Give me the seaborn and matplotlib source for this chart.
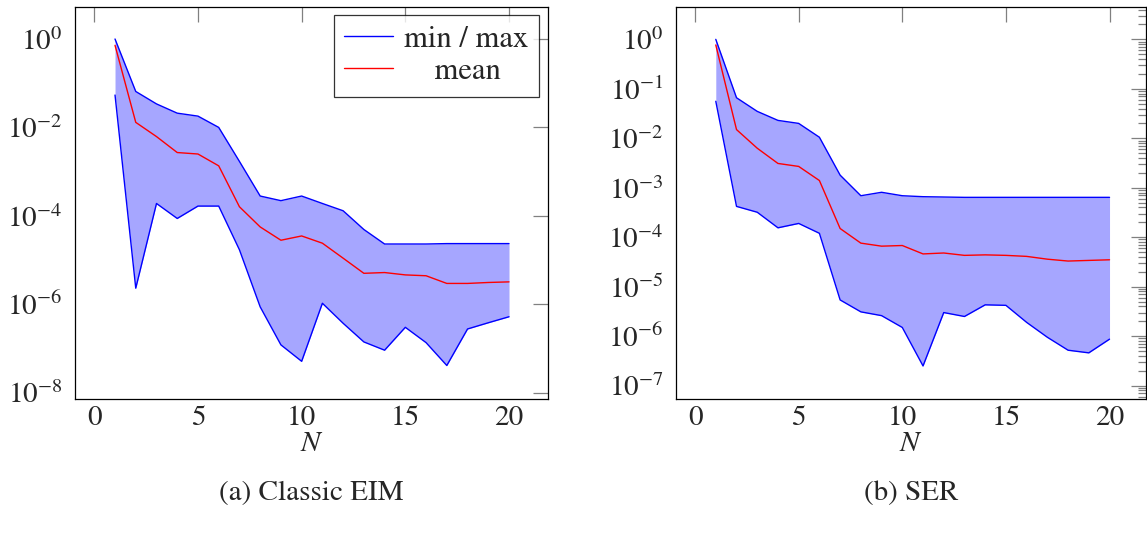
import numpy as np
import matplotlib
matplotlib.use("Agg")
import matplotlib.pyplot as plt
import matplotlib.ticker as mticker
import seaborn as sns

# Settings
sns.set_theme(style="white")
plt.rcParams['font.family'] = ['STIXGeneral', 'DejaVu Serif']
plt.rcParams['mathtext.fontset'] = 'stix'

# ── Data ──────────────────────────────────────────
N = list(range(1, 21))

eim_max = [1.0, 6.5e-2, 3.4e-2, 2.1e-2, 1.8e-2, 1.0e-2, 1.7e-3, 2.8e-4, 2.2e-4, 2.8e-4,
           1.9e-4, 1.3e-4, 4.9e-5, 2.3e-5, 2.3e-5, 2.3e-5, 2.35e-5, 2.35e-5, 2.35e-5, 2.35e-5]
eim_mean = [0.72, 1.3e-2, 6.2e-3, 2.7e-3, 2.5e-3, 1.35e-3, 1.6e-4, 5.6e-5, 2.8e-5, 3.5e-5,
            2.4e-5, 1.1e-5, 5.0e-6, 5.2e-6, 4.6e-6, 4.4e-6, 2.95e-6, 2.95e-6, 3.1e-6, 3.2e-6]
eim_min = [5.4e-2, 2.3e-6, 1.9e-4, 8.7e-5, 1.66e-4, 1.66e-4, 1.7e-5, 8.7e-7, 1.2e-7, 5.1e-8,
           1.05e-6, 3.7e-7, 1.4e-7, 9.1e-8, 3.0e-7, 1.35e-7, 4.1e-8, 2.75e-7, 3.8e-7, 5.2e-7]

ser_max = [1.0, 6.6e-2, 3.5e-2, 2.3e-2, 2.0e-2, 1.05e-2, 1.8e-3, 6.9e-4, 8.1e-4, 6.9e-4,
           6.6e-4, 6.5e-4, 6.4e-4, 6.4e-4, 6.4e-4, 6.4e-4, 6.4e-4, 6.4e-4, 6.4e-4, 6.4e-4]
ser_mean = [0.77, 1.5e-2, 6.3e-3, 3.1e-3, 2.7e-3, 1.4e-3, 1.5e-4, 7.6e-5, 6.6e-5, 6.8e-5,
            4.6e-5, 4.8e-5, 4.3e-5, 4.4e-5, 4.3e-5, 4.1e-5, 3.6e-5, 3.3e-5, 3.4e-5, 3.5e-5]
ser_min = [5.6e-2, 4.2e-4, 3.2e-4, 1.55e-4, 1.9e-4, 1.2e-4, 5.4e-6, 3.1e-6, 2.6e-6, 1.5e-6,
           2.5e-7, 3.0e-6, 2.5e-6, 4.3e-6, 4.2e-6, 1.9e-6, 9.5e-7, 5.2e-7, 4.6e-7, 8.7e-7]

x_ticks = [0, 5, 10, 15, 20]

# ── Figure ────────────────────────────────────────
fig = plt.figure(figsize=(11.47, 5.38), dpi=100)
ax1 = fig.add_axes([75 / 1147, 139 / 538, 473 / 1147, 392.3 / 538])
ax2 = fig.add_axes([676 / 1147, 139 / 538, 470 / 1147, 392.3 / 538])


def draw(ax, lo, mid, hi):
    ax.set_yscale('log')
    ax.fill_between(N, lo, hi, color='#a6a6ff', lw=0)
    sns.lineplot(x=N, y=hi, ax=ax, color='blue', lw=1.0, legend=False)
    sns.lineplot(x=N, y=lo, ax=ax, color='blue', lw=1.0, legend=False)
    sns.lineplot(x=N, y=mid, ax=ax, color='red', lw=1.0, legend=False)
    ax.set_xticks(x_ticks)
    ax.set_xlabel('$N$', fontsize=21, labelpad=0.5)
    ax.set_ylabel('')
    ax.tick_params(which='both', direction='in', top=True, right=True,
                   color='#808080', width=0.9, labelsize=21)
    ax.tick_params(which='major', length=11)
    ax.tick_params(which='minor', length=6)
    ax.tick_params(axis='x', pad=5)
    ax.tick_params(axis='y', pad=9)
    for s in ax.spines.values():
        s.set_color('black')
        s.set_linewidth(0.9)


draw(ax1, eim_min, eim_mean, eim_max)
draw(ax2, ser_min, ser_mean, ser_max)

# left: ticks every second decade, no minor ticks
ax1.yaxis.set_major_locator(mticker.FixedLocator([1e0, 1e-2, 1e-4, 1e-6, 1e-8]))
ax1.yaxis.set_minor_locator(mticker.NullLocator())
ax1.set_xlim(-0.93, 21.88)
ax1.set_ylim(10 ** -8.145, 10 ** 0.731)

# right: every decade with minor ticks
ax2.yaxis.set_major_locator(mticker.LogLocator(base=10, numticks=20))
ax2.yaxis.set_minor_locator(mticker.LogLocator(base=10, subs=np.arange(2, 10), numticks=20))
ax2.yaxis.set_minor_formatter(mticker.NullFormatter())
ax2.set_xlim(-0.92, 21.76)
ax2.set_ylim(10 ** -7.27, 10 ** 0.66)

# legend (left panel only)
leg = ax1.legend(handles=[ax1.lines[0], ax1.lines[2]], labels=['min / max', '    mean'],
                 loc='upper right', bbox_to_anchor=(0.981, 0.979), borderaxespad=0,
                 fontsize=22, frameon=True, fancybox=False, handlelength=1.6,
                 handletextpad=0.35, borderpad=0.35, labelspacing=0.12)
leg.get_frame().set_edgecolor('black')
leg.get_frame().set_linewidth(0.9)

# captions
fig.text(311.5 / 1147, 1 - 493 / 538, '(a) Classic EIM', ha='center', va='center', fontsize=21)
fig.text(911 / 1147, 1 - 493 / 538, '(b) SER', ha='center', va='center', fontsize=21)

fig.savefig('out.png', dpi=100)
